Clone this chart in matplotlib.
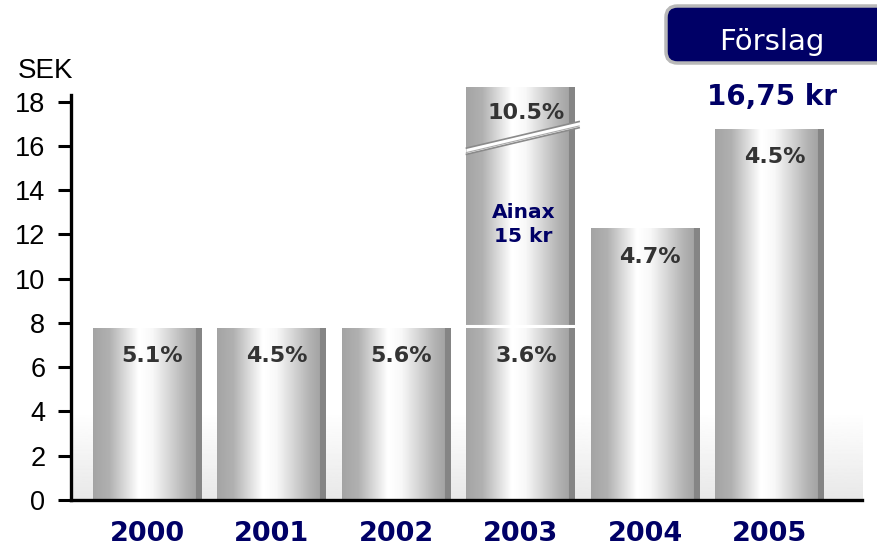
import numpy as np
import matplotlib
matplotlib.use('Agg')
from matplotlib import pyplot as plt
from matplotlib.patches import FancyBboxPatch, Polygon

plt.rcParams['font.family'] = ['Liberation Sans', 'DejaVu Sans']

# data
years = ['2000', '2001', '2002', '2003', '2004', '2005']
dividend = [7.75, 7.75, 7.75, 7.75, 12.25, 16.75]
yield_labels = ['5.1%', '4.5%', '5.6%', '3.6%', '4.7%', '4.5%']
ainax_top = 18.65          # drawn top of the broken Ainax bar (2003)
ainax_text = 'Ainax\n15 kr'
ainax_yield = '10.5%'
proposal = '16,75 kr'

NAVY = '#000066'
WIDE = ['DejaVu Sans']

# horizontal shading profile of a "cylinder" bar
prof_x = [0.0, 0.15, 0.42, 0.55, 0.85, 0.945]
prof_v = [0.64, 0.69, 1.0, 0.97, 0.70, 0.64]
xs = np.linspace(0, 1, 220)
shade = np.interp(xs, prof_x, prof_v)
shade[xs > 0.945] = 0.52
shade = shade[np.newaxis, :]


def shade_bar(ax, p):
    x0, y0, w, h = p.get_x(), p.get_y(), p.get_width(), p.get_height()
    im = ax.imshow(shade, cmap='gray', vmin=0, vmax=1, aspect='auto',
                   extent=(x0, x0 + w, y0, y0 + h), interpolation='nearest',
                   zorder=2, clip_on=False)
    im.set_clip_path(p)
    p.set_facecolor('none')


fig = plt.figure(figsize=(8.77, 5.5), dpi=100)
ax = fig.add_axes([71 / 877, 50 / 550, (862 - 71) / 877, 405 / 550])

x = np.arange(len(years))
w = 0.875

# faint floor shadow behind the bars
floor = np.linspace(0.91, 1.0, 100)[:, np.newaxis]
ax.imshow(floor, cmap='gray', vmin=0, vmax=1, aspect='auto', origin='lower',
          extent=(-0.6, 5.74, 0, 4.0), zorder=0)

bars = ax.bar(x, dividend, width=w, zorder=2, linewidth=0, clip_on=False)
for p in bars:
    shade_bar(ax, p)

# Ainax extra segment on 2003
i3 = years.index('2003')
seg = ax.bar(x[i3], ainax_top - dividend[i3] - 0.12, bottom=dividend[i3] + 0.12,
             width=w, zorder=2, linewidth=0, clip_on=False)
shade_bar(ax, seg[0])
ax.plot([x[i3] - w / 2, x[i3] + w / 2], [dividend[i3] + 0.1] * 2,
        color='white', lw=1.5, zorder=3, clip_on=False)

# break marks
bx0, bx1 = x[i3] - w / 2, x[i3] + w / 2 + 0.03
lo0, lo1 = 15.62, 16.82
hi0, hi1 = 15.9, 17.1
ax.add_patch(Polygon([[bx0, lo0], [bx1, lo1], [bx1, hi1], [bx0, hi0]],
                     closed=True, fc='white', ec='none', zorder=3, clip_on=False))
ax.plot([bx0, bx1], [lo0, lo1], color='#8a8a8a', lw=1.2, zorder=4, clip_on=False)
ax.plot([bx0, bx1], [lo0 + 0.08, lo1 + 0.08], color='#aaaaaa', lw=0.8, zorder=4, clip_on=False)
ax.plot([bx0, bx1], [hi0, hi1], color='#8a8a8a', lw=1.2, zorder=4, clip_on=False)

# labels on bars
for xi, v, lab in zip(x, dividend, yield_labels):
    ax.text(xi + 0.04, v - 1.25, lab, ha='center', va='center', fontsize=16,
            fontweight='bold', color='#333333', zorder=5, family=WIDE)
ax.text(x[i3] + 0.04, ainax_top - 1.15, ainax_yield, ha='center', va='center',
        fontsize=16, fontweight='bold', color='#333333', zorder=5, family=WIDE)
ax.text(x[i3] + 0.02, 12.45, ainax_text, ha='center', va='center', fontsize=14.5,
        fontweight='bold', color=NAVY, zorder=5, linespacing=1.35, family=WIDE)

ax.set_xlim(-0.614, 5.74)
ax.set_ylim(0, 18.3)
ax.set_yticks(range(0, 19, 2))
ax.set_xticks(x)
ax.set_xticklabels(years, fontsize=19.5, fontweight='bold', color=NAVY, family=WIDE)
ax.tick_params(axis='x', length=0, pad=15)
ax.tick_params(axis='y', length=9.5, width=2.2, pad=9, labelsize=19.5, direction='out')
for s in ['top', 'right']:
    ax.spines[s].set_visible(False)
ax.spines['left'].set_linewidth(2.4)
ax.spines['bottom'].set_linewidth(2.4)
ax.spines['bottom'].set_zorder(6)
ax.patch.set_visible(False)

fig.text(46 / 877, 1 - 71 / 550, 'SEK', ha='center', va='center', fontsize=20)

# proposal box
box = FancyBboxPatch((666 / 877, 1 - 63 / 550), 240 / 877, 57 / 550,
                     boxstyle='round,pad=0,rounding_size=0.013',
                     mutation_aspect=877 / 550, transform=fig.transFigure,
                     fc=NAVY, ec='#b8b8b8', lw=2.5)
fig.add_artist(box)
fig.text(772 / 877, 1 - 42 / 550, 'Förslag', ha='center', va='center',
         fontsize=21, color='white', family=WIDE)
fig.text(772 / 877, 1 - 97 / 550, proposal, ha='center', va='center',
         fontsize=20, fontweight='bold', color=NAVY, family=WIDE)

fig.savefig('out.png', dpi=100)
plt.close(fig)
